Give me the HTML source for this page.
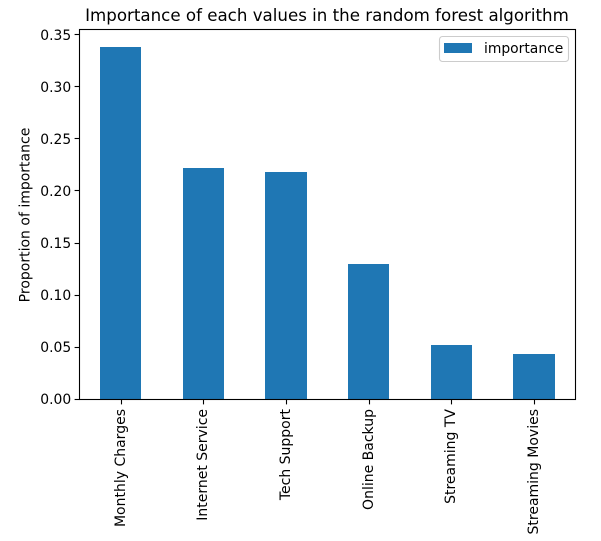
<!DOCTYPE html>
<html>
<head>
<meta charset="utf-8">
<style>
html,body{margin:0;padding:0;background:#fff;width:601px;height:541px;overflow:hidden}
svg{display:block}
text{font-family:"DejaVu Sans",sans-serif;fill:#000}
</style>
</head>
<body>
<svg id="chart" width="601" height="541" viewBox="0 0 601 541" xmlns="http://www.w3.org/2000/svg"></svg>
<script>
const categories = ["Monthly Charges","Internet Service","Tech Support","Online Backup","Streaming TV","Streaming Movies"];
const importanceValues = [0.338,0.222,0.218,0.130,0.052,0.0435];
const yTickValues = [0,0.05,0.10,0.15,0.20,0.25,0.30,0.35];
const yTickLabels = ["0.00","0.05","0.10","0.15","0.20","0.25","0.30","0.35"];
const seriesName = "importance";

const svg = document.getElementById('chart');
const NS = 'http://www.w3.org/2000/svg';
const plot = {left:79.5,right:575.5,top:29.5,bottom:399.5};
const dataLeft = 79.3;
const dataWidth = 496;
function yPos(v){return 399.4 - v*1042.5;}
function xPos(i){return dataLeft + dataWidth*(i+0.5)/categories.length;}
function make(tag,attrs,text){
  const el=document.createElementNS(NS,tag);
  for(const k in attrs){el.setAttribute(k,attrs[k]);}
  if(text!==undefined){el.textContent=text;}
  svg.appendChild(el);
  return el;
}
const barWidth=dataWidth/categories.length*0.5;

categories.forEach(function(c,i){
  const top=Math.round(yPos(importanceValues[i]));
  const x0=Math.round(xPos(i)-barWidth/2);
  const x1=Math.round(xPos(i)+barWidth/2);
  const r=make('rect',{x:x0,y:top,width:x1-x0,height:399.5-top,fill:'#1f77b4','shape-rendering':'crispEdges'});
  
  
});

const frame=make('rect',{x:plot.left,y:plot.top,width:plot.right-plot.left,height:plot.bottom-plot.top,fill:'none',stroke:'#000','stroke-width':1.1});



yTickValues.forEach(function(v,i){
  const y=Math.floor(yPos(v))+0.5;
  const t=make('line',{x1:plot.left-4.9,x2:plot.left,y1:y,y2:y,stroke:'#000','stroke-width':1.1});
  
  
  const l=make('text',{x:plot.left-8.3,y:Math.round(yPos(v)+5),'text-anchor':'end','font-size':13.89},yTickLabels[i]);
  
  
});

categories.forEach(function(c,i){
  const x=Math.round(xPos(i))+0.5;
  const t=make('line',{x1:x,x2:x,y1:plot.bottom,y2:plot.bottom+4.9,stroke:'#000','stroke-width':1.1});
  
  
  const l=make('text',{transform:'translate('+(x+3.5)+',409) rotate(-90)','text-anchor':'end','font-size':14},c);
  
  
});

const title=make('text',{x:327,y:21,'text-anchor':'middle','font-size':16.67},'Importance of each values in the random forest algorithm');



const yTitle=make('text',{transform:'translate(29.5,215) rotate(-90)','text-anchor':'middle','font-size':14},'Proportion of importance');



const legendBox=make('rect',{x:439.5,y:36.5,width:129,height:25,rx:3,ry:3,fill:'#fff','fill-opacity':0.8,stroke:'#ccc','stroke-width':1.1});


const legendSwatch=make('rect',{x:444,y:43,width:28,height:10,fill:'#1f77b4','shape-rendering':'crispEdges'});


const legendLabel=make('text',{x:484,y:53,'font-size':13.89},seriesName);


</script>
</body>
</html>
